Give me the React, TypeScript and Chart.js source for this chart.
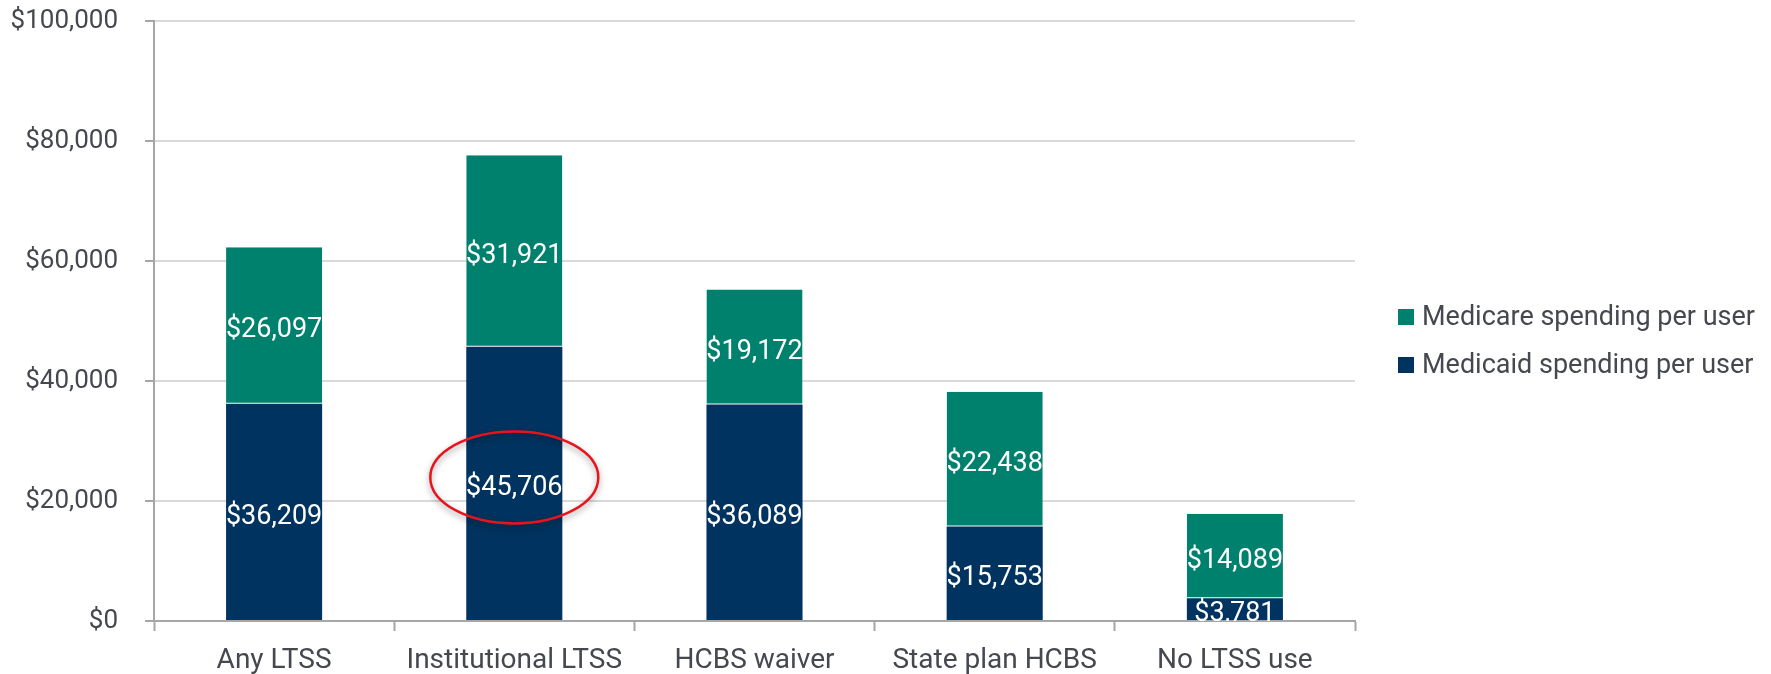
import React, { useEffect, useRef } from "react";
import { Chart, registerables } from "chart.js";

Chart.register(...registerables);

const categories = ["Any LTSS", "Institutional LTSS", "HCBS waiver", "State plan HCBS", "No LTSS use"];
const medicaidValues = [36209, 45706, 36089, 15753, 3781];
const medicareValues = [26097, 31921, 19172, 22438, 14089];
const seriesNames = ["Medicaid spending per user", "Medicare spending per user"];
const highlightedCategory = 1; // Institutional LTSS, medicaid label circled

const NAVY = "#00335F";
const TEAL = "#00816D";
const TEXT = "#45484F";
const FONT = "Roboto, 'Noto Sans', sans-serif";

const fmt = (v: number) => "$" + Math.round(v).toLocaleString("en-US");

const labelsPlugin = {
  id: "segLabels",
  afterDatasetsDraw(chart: any) {
    const ctx = chart.ctx;
    const area = chart.chartArea;
    ctx.save();
    ctx.beginPath();
    ctx.rect(area.left, area.top, area.right - area.left, area.bottom - area.top);
    ctx.clip();
    ctx.font = `27px ${FONT}`;
    ctx.fillStyle = "#ffffff";
    ctx.textAlign = "center";
    ctx.textBaseline = "middle";
    chart.data.datasets.forEach((ds: any, di: number) => {
      const meta = chart.getDatasetMeta(di);
      meta.data.forEach((bar: any, i: number) => {
        const yMid = (bar.y + bar.base) / 2 + 5;
        ctx.fillText(fmt(ds.data[i]), bar.x, yMid);
      });
    });
    ctx.restore();

    // red highlight ellipse around the circled label
    const hb: any = chart.getDatasetMeta(0).data[highlightedCategory];
    if (hb) {
      const cy = (hb.y + hb.base) / 2 - 6;
      ctx.save();
      ctx.shadowColor = "rgba(0,0,0,0.4)";
      ctx.shadowBlur = 6;
      ctx.shadowOffsetY = 3;
      ctx.strokeStyle = "#E8141C";
      ctx.lineWidth = 2.5;
      ctx.beginPath();
      ctx.ellipse(hb.x, cy, 84, 46, 0, 0, Math.PI * 2);
      ctx.stroke();
      ctx.restore();
    }
  },
};

const legendPlugin = {
  id: "sideLegend",
  afterDraw(chart: any) {
    const ctx = chart.ctx;
    const area = chart.chartArea;
    const x = area.right + 43;
    const mid = (area.top + area.bottom) / 2;
    const items = [
      { text: seriesNames[1], color: TEAL, y: mid - 4 },
      { text: seriesNames[0], color: NAVY, y: mid + 44 },
    ];
    ctx.save();
    ctx.font = `27px ${FONT}`;
    ctx.textBaseline = "middle";
    ctx.textAlign = "left";
    items.forEach((it) => {
      ctx.fillStyle = it.color;
      ctx.fillRect(x, it.y - 8, 16, 16);
      ctx.fillStyle = TEXT;
      ctx.fillText(it.text, x + 24, it.y + 1);
    });
    ctx.restore();
  },
};

export default function App() {
  const ref = useRef<HTMLCanvasElement | null>(null);

  useEffect(() => {
    document.body.style.margin = "0";
    if (!ref.current) return;
    Chart.defaults.font.family = FONT;
    const chart = new Chart(ref.current, {
      type: "bar",
      data: {
        labels: categories,
        datasets: [
          {
            label: seriesNames[0],
            data: medicaidValues,
            backgroundColor: NAVY,
            borderWidth: 0,
            barPercentage: 0.4,
            categoryPercentage: 1,
          },
          {
            label: seriesNames[1],
            data: medicareValues,
            backgroundColor: TEAL,
            borderColor: "rgba(255,255,255,0.35)",
            borderWidth: { top: 0, left: 0, right: 0, bottom: 1 },
            borderSkipped: false,
            barPercentage: 0.4,
            categoryPercentage: 1,
          },
        ],
      },
      options: {
        animation: false,
        responsive: true,
        maintainAspectRatio: false,
        layout: { padding: { top: 21, right: 416, left: 0, bottom: 0 } },
        plugins: {
          legend: { display: false },
          tooltip: { enabled: false },
        },
        scales: {
          x: {
            stacked: true,
            afterFit: (s: any) => {
              s.height = 53;
            },
            grid: {
              offset: true,
              drawOnChartArea: false,
              tickLength: 10,
              tickColor: "#A6A6A6",
              tickWidth: 2,
            },
            border: { color: "#A6A6A6", width: 2 },
            ticks: {
              color: TEXT,
              font: { size: 28 },
              padding: 13,
              maxRotation: 0,
            },
          },
          y: {
            stacked: true,
            min: 0,
            max: 100000,
            afterFit: (s: any) => {
              s.width = 154;
              s.paddingTop = 0;
              s.paddingBottom = 0;
            },
            grid: {
              color: "#D9D9D9",
              lineWidth: 2,
              tickLength: 9,
              tickColor: "#A6A6A6",
              tickWidth: 2,
            },
            border: { color: "#A6A6A6", width: 2 },
            ticks: {
              stepSize: 20000,
              color: TEXT,
              font: { size: 26 },
              padding: 27,
              callback: (v: any) => fmt(Number(v)),
            },
          },
        },
      },
      plugins: [labelsPlugin, legendPlugin],
    });
    return () => chart.destroy();
  }, []);

  return (
    <div style={{ position: "absolute", left: 0, top: 0, width: 1771, height: 674 }}>
      <canvas ref={ref} />
    </div>
  );
}
